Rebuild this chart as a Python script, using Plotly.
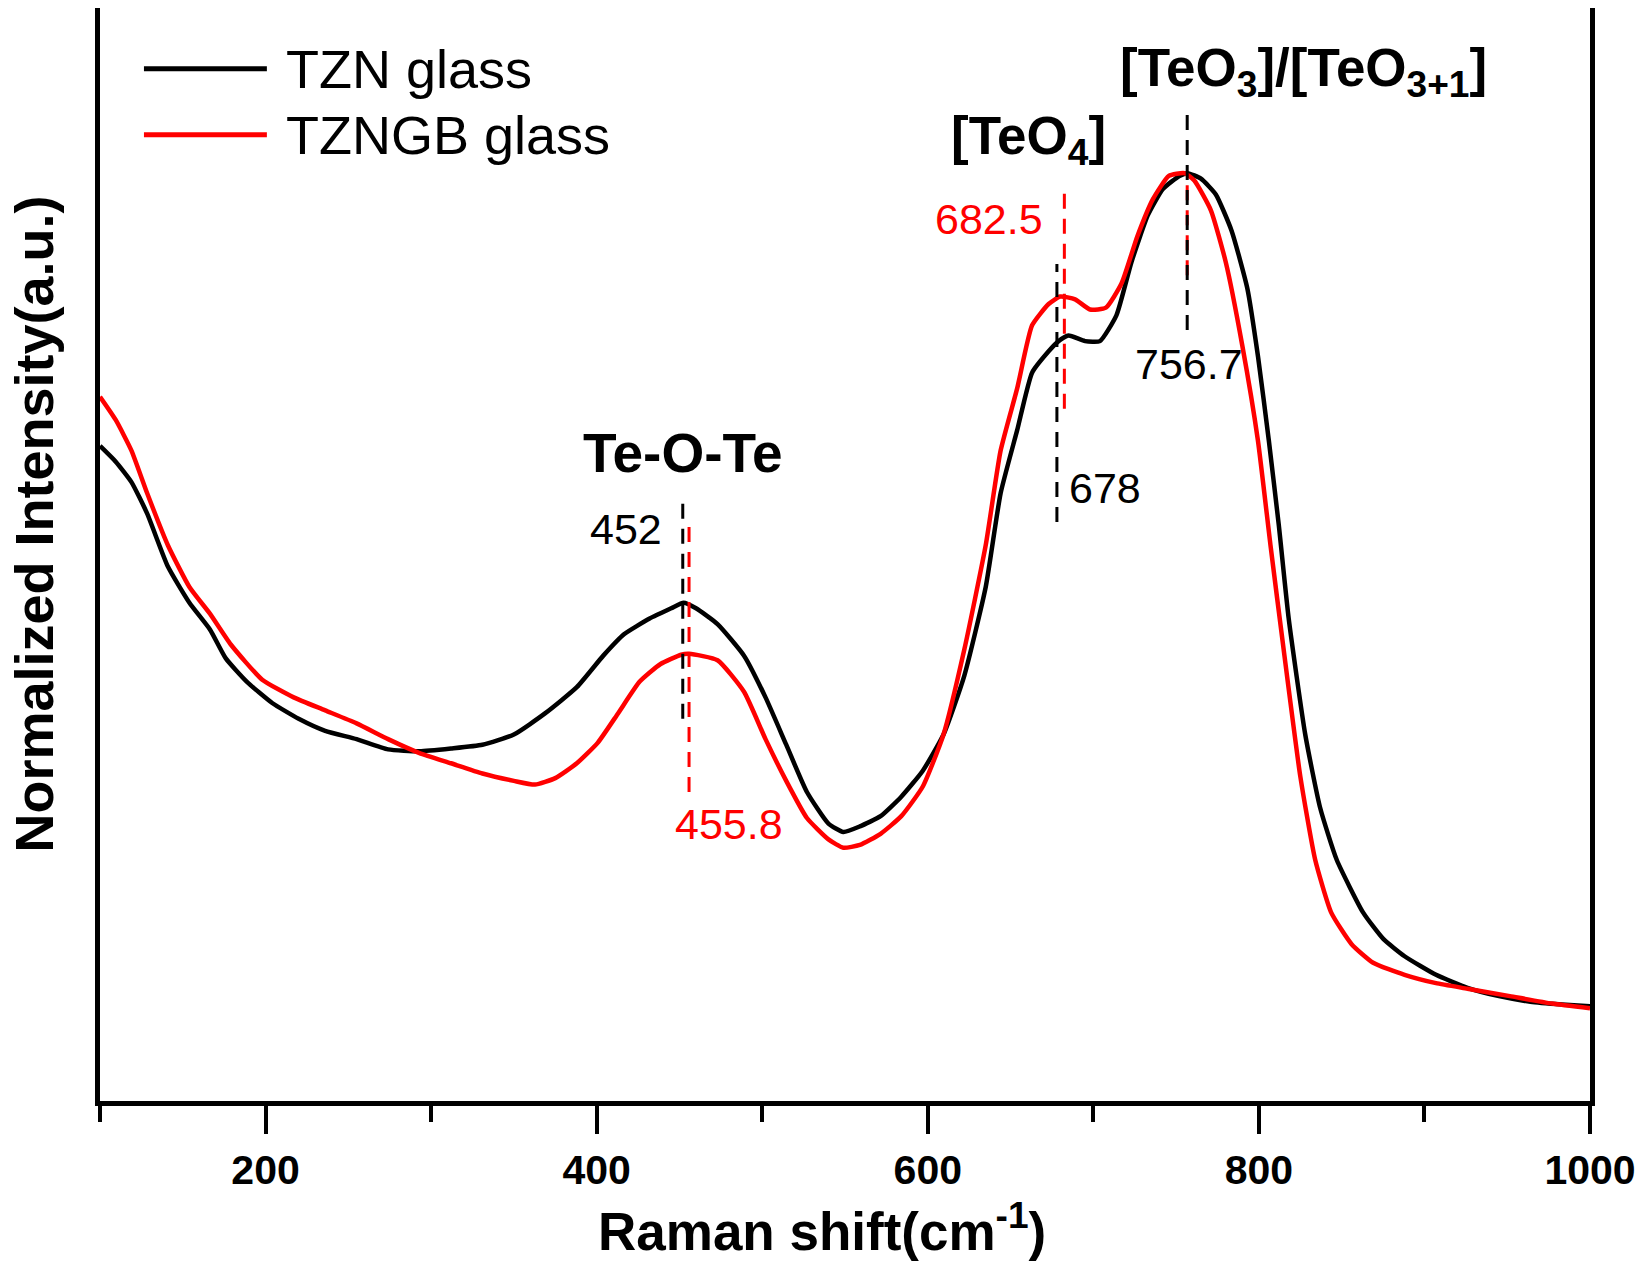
import plotly.graph_objects as go

# Raman shift (cm^-1) and normalized intensity (a.u.)
tzn_x = [100, 109.5, 119, 128.5, 141, 154, 166.5, 176, 188.6, 204, 220, 236, 255, 274, 293, 312, 331, 350,
         369, 388, 404, 416.5, 432, 445, 452.5, 460, 473, 489, 502, 514.5, 527, 540, 549, 559, 571.5, 584,
         597, 609.5, 622, 635, 644, 654, 663, 673, 679, 685, 695, 704, 714, 723, 733, 742, 752, 757, 765,
         774, 783.5, 793, 799.5, 806, 812, 818, 828, 837, 847, 863, 875, 888, 907, 926, 945, 964, 983, 1000]
tzn_y = [70.6, 68.9, 66.7, 63.3, 57.6, 53.7, 50.8, 47.7, 45.2, 42.9, 41.2, 39.9, 39.0, 37.9, 37.7, 38.0, 38.4, 39.5,
         41.8, 44.6, 48.0, 50.3, 52.0, 53.1, 53.7, 53.1, 51.4, 48.0, 43.5, 38.4, 33.3, 29.9, 29.0, 29.6, 30.7, 32.8,
         35.6, 39.5, 45.8, 55.4, 65.5, 72.3, 78.5, 80.8, 81.9, 82.5, 81.9, 81.9, 84.7, 90.4, 95.5, 98.3, 99.7, 100.0, 99.4,
         97.7, 93.8, 87.6, 80.2, 71.2, 62.1, 52.0, 39.5, 31.6, 26.0, 20.3, 17.5, 15.6, 13.6, 12.2, 11.3, 10.7, 10.4, 10.2]

tzngb_x = [100, 109.5, 119, 128.5, 141, 154, 166.5, 179, 198, 217, 236, 255, 274, 293, 312, 331, 350, 362.7,
           375, 388, 400.6, 413, 426, 438.6, 451, 455.8, 473, 489, 502, 514.5, 527, 540, 549, 559, 571.5, 584,
           597, 609.5, 622, 635, 644, 654, 663, 673, 680, 689, 698, 707.6, 717, 726.6, 736, 745.6, 755, 761,
           771, 780, 790, 799.4, 807, 815, 825, 834, 843.7, 856, 869, 888, 907, 926, 951.6, 977, 1000]
tzngb_y = [75.9, 73.4, 70.1, 65.5, 59.9, 55.4, 52.5, 49.2, 45.4, 43.5, 42.1, 40.7, 39.0, 37.5, 36.4, 35.3, 34.5, 34.1,
           34.8, 36.4, 38.6, 41.8, 45.2, 47.1, 48.1, 48.2, 47.5, 44.1, 39.0, 34.5, 30.5, 28.2, 27.3, 27.6, 28.8, 30.7,
           33.9, 39.5, 48.6, 59.9, 70.1, 76.8, 83.6, 85.9, 86.7, 86.4, 85.3, 85.5, 88.1, 93.2, 97.2, 99.7, 100.0, 99.2,
           96.0, 90.4, 81.4, 71.2, 59.9, 48.6, 35.0, 26.0, 20.3, 16.9, 14.9, 13.6, 12.7, 12.1, 11.3, 10.5, 10.0]

# Peak markers: position, dashed-line extent (y0, y1), colour
peak_pos = [452, 455.8, 678, 682.5, 756.7, 756.7]
peak_y0 = [41.2, 33.3, 62.4, 74.6, 89.0, 83.1]
peak_y1 = [65.0, 62.1, 90.2, 98.3, 100.0, 106.8]
peak_col = ["black", "red", "black", "red", "red", "black"]

series_names = ["TZN glass", "TZNGB glass"]
series_colors = ["black", "red"]

FONT = "Liberation Sans, Arial, sans-serif"

fig = go.Figure()
fig.add_trace(go.Scatter(x=tzn_x, y=tzn_y, mode="lines", name=series_names[0],
                         line=dict(color=series_colors[0], width=4.5, shape="spline", smoothing=0.5)))
fig.add_trace(go.Scatter(x=tzngb_x, y=tzngb_y, mode="lines", name=series_names[1],
                         line=dict(color=series_colors[1], width=4.5, shape="spline", smoothing=0.5)))

for p, a, b, c in zip(peak_pos, peak_y0, peak_y1, peak_col):
    fig.add_trace(go.Scatter(x=[p, p], y=[a, b], mode="lines", showlegend=False,
                             line=dict(color=c, width=3, dash="15px,10px")))

# Legend drawn manually
for i, (nm, col) in enumerate(zip(series_names, series_colors)):
    yp = [0.9445, 0.884][i]
    fig.add_shape(type="line", xref="paper", yref="paper", x0=0.0295, x1=0.112, y0=yp, y1=yp,
                  line=dict(color=col, width=5))
    fig.add_annotation(xref="paper", yref="paper", x=0.1235, y=yp, text=nm, showarrow=False,
                       xanchor="left", yanchor="middle", font=dict(family=FONT, size=54, color="black"))

def ann(x, y, text, color="black", size=43, bold=False, xanchor="center"):
    t = f"<b>{text}</b>" if bold else text
    fig.add_annotation(x=x, y=y, text=t, showarrow=False, xanchor=xanchor, yanchor="middle",
                       font=dict(family=FONT, size=size, color=color))

ann(452, 69.8, "Te-O-Te", size=55, bold=True)
ann(440.5, 61.6, "452", xanchor="right")
ann(446, 29.9, "455.8", color="red", xanchor="left")
ann(684.2, 66.1, "678", xanchor="left")
ann(671, 95.1, "682.5", color="red", xanchor="right")
ann(660.8, 103.6, "[TeO<sub>4</sub>]", size=53, bold=True)
ann(757.6, 79.4, "756.7")
ann(827, 111.0, "[TeO<sub>3</sub>]/[TeO<sub>3+1</sub>]", size=53, bold=True)

# Axis titles
fig.add_annotation(xref="paper", yref="paper", x=0.4846, y=-0.1158, text="<b>Raman shift(cm<sup>-1</sup>)</b>",
                   showarrow=False, xanchor="center", yanchor="middle",
                   font=dict(family=FONT, size=53, color="black"))
fig.add_annotation(xref="paper", yref="paper", x=-0.0445, y=0.528, text="<b>Normalized Intensity(a.u.)</b>",
                   showarrow=False, xanchor="center", yanchor="middle", textangle=-90,
                   font=dict(family=FONT, size=54, color="black"))

fig.update_layout(
    width=1636, height=1262,
    margin=dict(l=92, r=54, t=0, b=169, autoexpand=False),
    plot_bgcolor="white", paper_bgcolor="white",
    showlegend=False,
    font=dict(family=FONT, color="black"),
)
fig.update_xaxes(range=[100, 1000], tick0=0, dtick=200, ticks="outside", ticklen=28, tickwidth=4,
                 tickcolor="black", showline=True, linewidth=5, linecolor="black", mirror=True,
                 showgrid=False, zeroline=False, automargin=False, ticklabelstandoff=1,
                 tickfont=dict(family=FONT, size=41, color="black"),
                 tickprefix="<b>", ticksuffix="</b>",
                 minor=dict(ticks="outside", tick0=100, dtick=200, ticklen=16, tickwidth=4, tickcolor="black",
                            showgrid=False))
fig.update_yaxes(range=[0, 117.8], showticklabels=False, ticks="", showline=True, linewidth=5,
                 linecolor="black", mirror=True, showgrid=False, zeroline=False, automargin=False)

fig.write_html("out.html")
